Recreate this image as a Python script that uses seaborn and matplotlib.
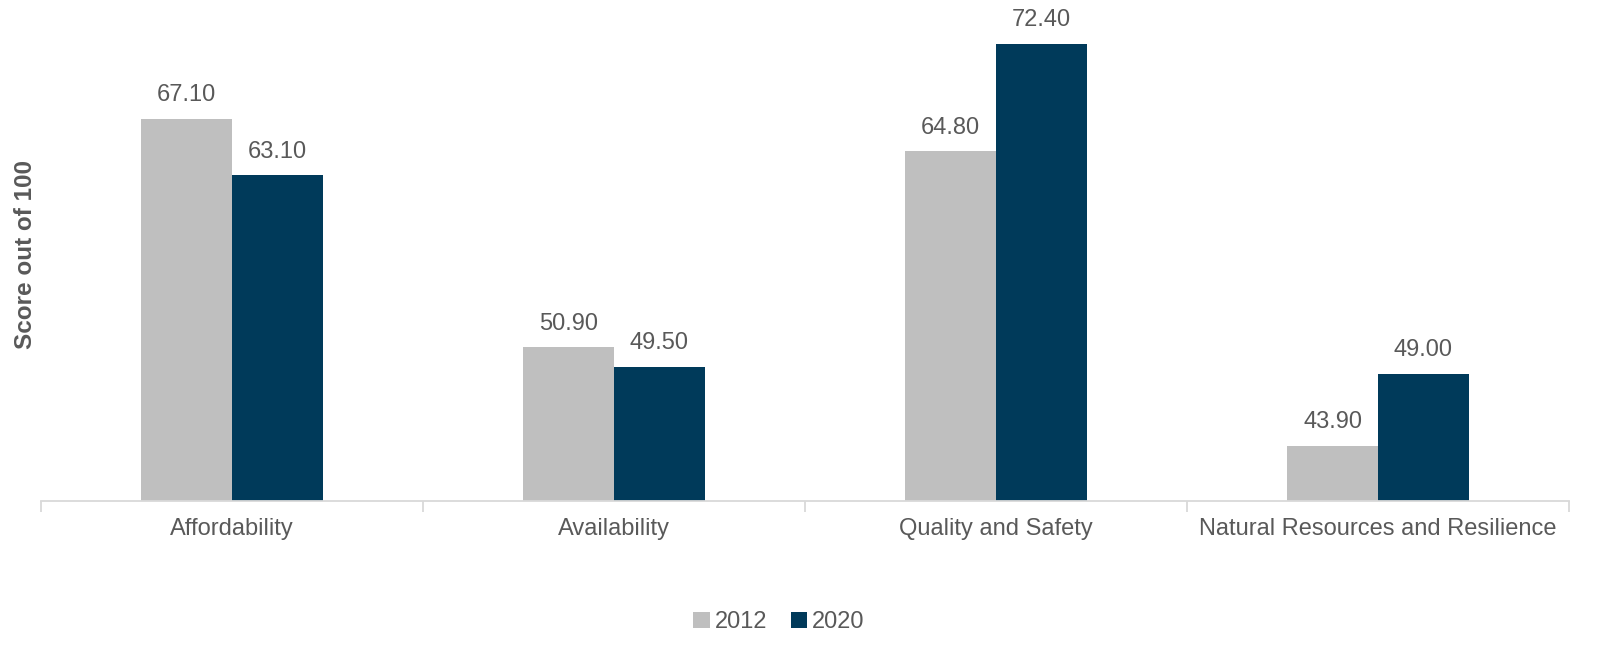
import pandas as pd
import numpy as np
import matplotlib
matplotlib.use("Agg")
import matplotlib.pyplot as plt
import seaborn as sns

categories = ["Affordability", "Availability", "Quality and Safety", "Natural Resources and Resilience"]
years = ["2012", "2020"]
scores_2012 = [67.1, 50.9, 64.8, 43.9]
scores_2020 = [63.1, 49.5, 72.4, 49.0]

df = pd.DataFrame({
    "category": categories * 2,
    "year": [years[0]] * 4 + [years[1]] * 4,
    "score": scores_2012 + scores_2020,
})

sns.set_style("white")
plt.rcParams["font.family"] = ["Liberation Sans", "DejaVu Sans"]
text_col = "#595959"

fig = plt.figure(figsize=(16.23, 6.54), dpi=100)
ax = fig.add_axes([0.0253, 0.234, 0.9414, 0.755])

sns.barplot(data=df, x="category", y="score", hue="year", order=categories,
            hue_order=years, palette=["#bfbfbf", "#003a5a"], width=0.476,
            saturation=1, linewidth=0, ax=ax, legend=True)

for cont in ax.containers:
    ax.bar_label(cont, fmt="%.2f", padding=9, fontsize=17, color=text_col)

ax.set_ylim(40, 75)
ax.set_xlim(-0.5, 3.5)
ax.set_yticks([])
ax.set_xlabel("")
ax.set_ylabel("Score out of 100", fontsize=17.5, fontweight="bold", color=text_col, labelpad=3)
for s in ["top", "right", "left"]:
    ax.spines[s].set_visible(False)
ax.spines["bottom"].set_color("#d9d9d9")
ax.spines["bottom"].set_linewidth(1.3)

ax.tick_params(axis="x", length=0, labelsize=17, labelcolor=text_col, pad=12)
ax.set_xticks(np.arange(-0.5, 4.0, 1.0), minor=True)
ax.tick_params(axis="x", which="minor", bottom=True, length=8, color="#d9d9d9", width=1.3)

ax.legend(loc="upper center", bbox_to_anchor=(0.483, -0.18), ncol=2, frameon=False,
          fontsize=17, labelcolor=text_col, handlelength=0.7, handleheight=0.7,
          handletextpad=0.2, columnspacing=1.0)

fig.savefig("out.png", dpi=100)
